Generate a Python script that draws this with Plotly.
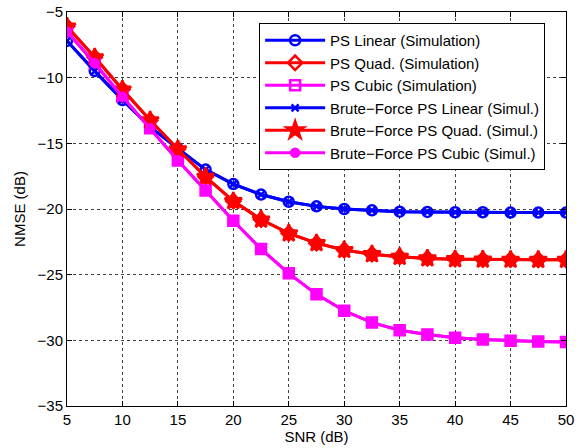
import plotly.graph_objects as go

snr = [5, 7.5, 10, 12.5, 15, 17.5, 20, 22.5, 25, 27.5, 30, 32.5, 35, 37.5, 40, 42.5, 45, 47.5, 50]

ps_linear = [-7.2, -9.5, -11.7, -13.75, -15.4, -17.0, -18.1, -18.9, -19.45, -19.8, -20.0, -20.1, -20.2, -20.22, -20.25, -20.25, -20.27, -20.27, -20.27]
ps_quad = [-6.1, -8.45, -10.9, -13.25, -15.45, -17.55, -19.4, -20.8, -21.85, -22.6, -23.12, -23.44, -23.64, -23.76, -23.82, -23.85, -23.86, -23.87, -23.87]
ps_cubic = [-6.5, -8.9, -11.45, -13.85, -16.3, -18.6, -20.9, -23.05, -24.9, -26.5, -27.75, -28.65, -29.23, -29.56, -29.8, -29.94, -30.04, -30.09, -30.12]

bf_linear = [-7.2, -9.5, -11.7, -13.75, -15.4, -17.0, -18.1, -18.9, -19.45, -19.8, -20.0, -20.1, -20.2, -20.22, -20.25, -20.25, -20.27, -20.27, -20.27]
bf_quad = [-6.1, -8.45, -10.9, -13.25, -15.45, -17.55, -19.4, -20.8, -21.85, -22.6, -23.12, -23.44, -23.64, -23.76, -23.82, -23.85, -23.86, -23.87, -23.87]
bf_cubic = [-6.5, -8.9, -11.45, -13.85, -16.3, -18.6, -20.9, -23.05, -24.9, -26.5, -27.75, -28.65, -29.23, -29.56, -29.8, -29.94, -30.04, -30.09, -30.12]

names = [
    "PS Linear (Simulation)",
    "PS Quad. (Simulation)",
    "PS Cubic (Simulation)",
    "Brute\u2212Force PS Linear (Simul.)",
    "Brute\u2212Force PS Quad. (Simul.)",
    "Brute\u2212Force PS Cubic (Simul.)",
]

BLUE = "#0000ff"
RED = "#ff0000"
MAG = "#ff00ff"

series = [
    (ps_linear, BLUE, "circle-open", 10),
    (ps_quad, RED, "diamond-open", 11),
    (ps_cubic, MAG, "square-open", 10),
    (bf_linear, BLUE, "x-thin-open", 7),
    (bf_quad, RED, "star", 13),
    (bf_cubic, MAG, "circle", 8),
]

fig = go.Figure()
for (ys, col, sym, sz), nm in zip(series, names):
    fig.add_trace(go.Scatter(
        x=snr, y=ys, name=nm, mode="lines+markers",
        line=dict(color=col, width=3),
        marker=dict(symbol=sym, size=sz, color=col, line=dict(color=col, width=2.5)),
    ))

axis_common = dict(
    showline=True, linecolor="black", linewidth=1, mirror="ticks",
    ticks="inside", ticklen=5, tickcolor="black",
    showgrid=True, gridcolor="rgba(0,0,0,0.75)", griddash="dot", gridwidth=1,
    zeroline=False, tickfont=dict(size=15, color="black"), automargin=False,
)

fig.update_xaxes(range=[5, 50], tickvals=[5, 10, 15, 20, 25, 30, 35, 40, 45, 50],
                 title=dict(text="SNR (dB)", standoff=1, font=dict(size=15, color="black")),
                 **axis_common)
fig.update_yaxes(range=[-35, -5], tickvals=[-35, -30, -25, -20, -15, -10, -5],
                 title=dict(text="NMSE (dB)", standoff=8, font=dict(size=15, color="black")),
                 **axis_common)

fig.update_layout(
    width=586, height=448,
    margin=dict(l=67, r=20, t=12, b=42),
    plot_bgcolor="white", paper_bgcolor="white",
    font=dict(family="Liberation Sans, Arial, Helvetica, sans-serif", size=15, color="black"),
    legend=dict(x=0.385, y=0.972, xanchor="left", yanchor="top",
                bgcolor="white", bordercolor="black", borderwidth=1,
                font=dict(size=15), tracegroupgap=0, itemwidth=60),
    showlegend=True,
)

fig.write_html("out.html")
